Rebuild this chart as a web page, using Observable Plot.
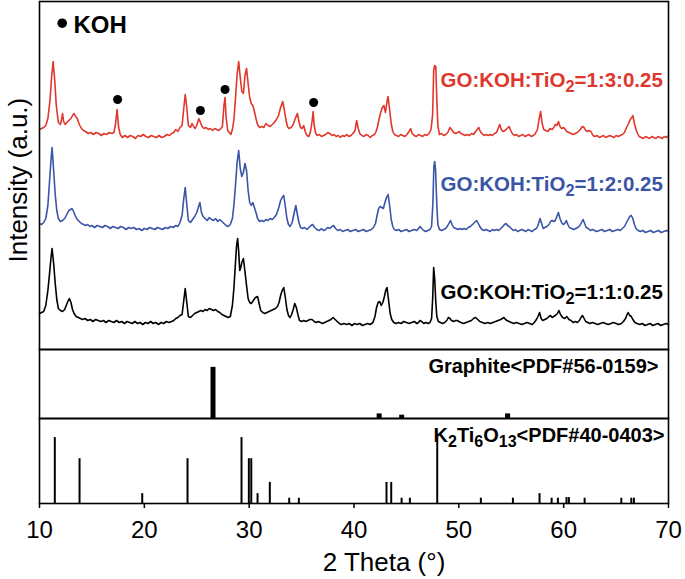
<!DOCTYPE html>
<html><head><meta charset="utf-8">
<script src="https://cdn.jsdelivr.net/npm/d3@7"></script>
<script src="https://cdn.jsdelivr.net/npm/@observablehq/plot@0.6"></script>
<style>
html,body{margin:0;padding:0;background:#fff;}
#chart{position:relative;width:685px;height:579px;overflow:hidden;background:#fff;}
#chart svg{position:absolute;left:0;}
</style></head><body><div id="chart"></div>
<script>
// ---------- data (2θ in degrees, intensity in a.u.) ----------
const redPattern = [[10.0,30],[10.2,31],[10.4,32],[10.6,34],[10.8,41],[11.0,59],[11.15,82],[11.3,98],[11.45,80],[11.6,54],[11.8,37],[12.0,35],[12.1,40],[12.2,46],[12.3,38],[12.45,35],[12.6,37],[12.8,39],[13.0,41],[13.15,44],[13.3,46],[13.45,43],[13.6,41],[13.8,35],[14.0,31],[14.2,29],[14.4,28],[14.65,26],[14.9,27],[15.15,25],[15.4,27],[15.65,26],[15.9,24],[16.15,26],[16.4,25],[16.65,27],[16.9,26],[17.1,27],[17.25,35],[17.4,50],[17.55,32],[17.7,25],[17.9,22],[18.15,24],[18.4,22],[18.65,24],[18.9,23],[19.15,21],[19.4,24],[19.65,23],[19.9,25],[20.15,23],[20.4,22],[20.65,24],[20.9,23],[21.15,22],[21.4,24],[21.65,22],[21.9,23],[22.15,25],[22.4,24],[22.6,26],[22.8,27],[23.0,30],[23.2,28],[23.4,32],[23.6,34],[23.75,50],[23.9,65],[24.05,52],[24.2,34],[24.4,32],[24.55,36],[24.7,33],[24.85,31],[25.0,34],[25.2,41],[25.35,37],[25.5,33],[25.7,31],[25.9,32],[26.1,30],[26.3,31],[26.5,29],[26.7,31],[26.9,30],[27.1,29],[27.3,31],[27.45,33],[27.6,55],[27.7,62],[27.8,42],[27.95,29],[28.1,27],[28.25,25],[28.4,30],[28.55,40],[28.7,62],[28.85,85],[29.0,98],[29.15,82],[29.3,68],[29.45,66],[29.6,84],[29.75,91],[29.9,76],[30.05,62],[30.2,56],[30.35,54],[30.5,48],[30.65,41],[30.8,35],[31.0,32],[31.2,33],[31.4,32],[31.6,36],[31.8,34],[32.0,33],[32.2,35],[32.4,37],[32.6,40],[32.8,44],[33.0,52],[33.2,58],[33.35,50],[33.5,40],[33.65,33],[33.8,31],[34.0,32],[34.2,35],[34.4,41],[34.6,46],[34.75,38],[34.9,32],[35.05,31],[35.2,34],[35.35,28],[35.5,24],[35.7,23],[35.85,28],[36.0,38],[36.1,48],[36.2,34],[36.35,26],[36.5,24],[36.7,25],[36.9,23],[37.1,24],[37.3,25],[37.5,27],[37.7,26],[37.9,24],[38.1,25],[38.3,23],[38.5,24],[38.7,22],[38.9,24],[39.1,23],[39.3,25],[39.5,23],[39.7,24],[39.9,26],[40.1,29],[40.25,39],[40.4,31],[40.55,26],[40.75,24],[40.95,23],[41.15,25],[41.35,24],[41.55,22],[41.75,24],[41.95,25],[42.1,28],[42.25,33],[42.4,41],[42.55,47],[42.7,52],[42.85,54],[43.0,47],[43.15,58],[43.25,63],[43.4,50],[43.55,36],[43.7,28],[43.85,25],[44.05,24],[44.25,23],[44.45,25],[44.65,24],[44.85,23],[45.05,25],[45.25,28],[45.4,31],[45.55,26],[45.75,24],[45.95,23],[46.15,25],[46.35,24],[46.55,23],[46.75,25],[46.95,24],[47.15,26],[47.35,30],[47.5,45],[47.6,89],[47.7,94],[47.8,93],[47.9,60],[48.0,34],[48.15,25],[48.35,26],[48.55,24],[48.75,25],[48.95,27],[49.15,32],[49.3,30],[49.5,27],[49.7,26],[49.9,27],[50.05,28],[50.2,26],[50.4,25],[50.6,24],[50.8,25],[51.0,24],[51.2,26],[51.4,25],[51.6,28],[51.75,30],[51.9,32],[52.05,28],[52.2,26],[52.4,24],[52.6,25],[52.8,24],[53.0,25],[53.2,24],[53.4,26],[53.6,27],[53.75,31],[53.9,35],[54.05,30],[54.2,28],[54.4,29],[54.6,31],[54.8,33],[54.95,29],[55.1,26],[55.3,24],[55.5,25],[55.7,23],[55.9,24],[56.1,25],[56.3,23],[56.5,24],[56.7,25],[56.9,23],[57.1,24],[57.3,26],[57.5,30],[57.65,40],[57.8,48],[57.95,36],[58.1,30],[58.3,29],[58.5,28],[58.7,31],[58.9,30],[59.05,32],[59.2,35],[59.35,34],[59.5,38],[59.65,33],[59.8,31],[60.0,32],[60.15,30],[60.3,28],[60.5,27],[60.7,26],[60.9,25],[61.1,26],[61.3,27],[61.5,29],[61.65,31],[61.8,33],[61.95,32],[62.1,29],[62.25,28],[62.4,29],[62.6,28],[62.8,24],[63.0,23],[63.2,24],[63.4,22],[63.6,23],[63.8,24],[64.0,22],[64.2,23],[64.4,24],[64.6,23],[64.8,22],[65.0,24],[65.2,23],[65.4,24],[65.6,25],[65.8,27],[66.0,32],[66.2,36],[66.35,40],[66.5,42],[66.6,44],[66.75,36],[66.9,30],[67.05,26],[67.2,23],[67.4,22],[67.6,21],[67.8,23],[68.0,22],[68.2,21],[68.4,23],[68.6,22],[68.8,21],[69.0,23],[69.2,22],[69.4,21],[69.6,23],[69.8,22],[70.0,24]];

const bluePattern = [[10.0,31],[10.2,30],[10.4,32],[10.6,36],[10.8,49],[10.95,72],[11.1,95],[11.2,107],[11.35,84],[11.5,60],[11.65,44],[11.8,36],[12.0,33],[12.2,34],[12.4,36],[12.6,40],[12.8,44],[12.95,45],[13.1,46],[13.25,43],[13.4,39],[13.6,35],[13.8,33],[14.0,31],[14.2,30],[14.4,29],[14.6,30],[14.8,28],[15.0,29],[15.25,27],[15.5,29],[15.75,28],[16.0,27],[16.25,29],[16.5,28],[16.75,26],[17.0,28],[17.25,27],[17.5,26],[17.75,28],[18.0,27],[18.25,25],[18.5,27],[18.75,26],[19.0,27],[19.25,25],[19.5,26],[19.75,24],[20.0,26],[20.25,25],[20.5,27],[20.75,26],[21.0,25],[21.25,27],[21.5,26],[21.75,25],[22.0,27],[22.25,26],[22.5,28],[22.75,27],[23.0,29],[23.2,28],[23.4,32],[23.6,39],[23.75,55],[23.9,67],[24.05,50],[24.2,34],[24.4,32],[24.6,35],[24.8,38],[25.0,42],[25.15,47],[25.3,52],[25.45,42],[25.6,38],[25.8,36],[26.0,34],[26.2,37],[26.4,35],[26.6,34],[26.8,36],[27.0,33],[27.2,35],[27.4,33],[27.6,31],[27.8,29],[28.0,28],[28.2,30],[28.4,36],[28.55,50],[28.7,70],[28.85,92],[29.0,104],[29.15,86],[29.3,78],[29.45,82],[29.6,91],[29.75,84],[29.9,64],[30.05,52],[30.2,49],[30.35,52],[30.5,47],[30.65,42],[30.8,36],[31.0,33],[31.2,34],[31.4,33],[31.6,35],[31.8,34],[32.0,36],[32.2,35],[32.4,37],[32.6,40],[32.8,46],[33.0,54],[33.15,57],[33.3,59],[33.45,48],[33.6,36],[33.75,30],[33.9,28],[34.1,32],[34.3,42],[34.45,49],[34.6,40],[34.75,32],[34.9,27],[35.1,26],[35.3,27],[35.5,25],[35.7,27],[35.9,29],[36.05,30],[36.25,27],[36.45,25],[36.7,24],[36.9,26],[37.1,24],[37.3,25],[37.5,27],[37.7,26],[37.9,28],[38.05,29],[38.25,26],[38.45,24],[38.7,25],[38.9,23],[39.15,24],[39.4,25],[39.65,23],[39.9,24],[40.15,25],[40.4,23],[40.65,24],[40.9,25],[41.15,23],[41.4,24],[41.65,25],[41.85,27],[42.05,31],[42.2,39],[42.35,46],[42.5,48],[42.65,47],[42.8,46],[42.95,52],[43.1,57],[43.25,60],[43.4,49],[43.55,35],[43.7,28],[43.85,25],[44.05,24],[44.25,25],[44.5,23],[44.75,24],[45.0,25],[45.25,23],[45.5,24],[45.75,25],[46.0,24],[46.15,26],[46.3,28],[46.45,26],[46.65,24],[46.85,23],[47.05,24],[47.25,25],[47.4,28],[47.52,50],[47.62,88],[47.7,93],[47.78,85],[47.9,50],[48.0,30],[48.15,25],[48.35,24],[48.55,25],[48.75,26],[48.95,29],[49.1,32],[49.2,34],[49.35,30],[49.5,27],[49.7,26],[49.9,25],[50.1,26],[50.3,25],[50.5,26],[50.7,25],[50.9,27],[51.1,28],[51.3,30],[51.5,32],[51.7,34],[51.85,31],[52.0,28],[52.2,25],[52.4,24],[52.6,25],[52.8,24],[53.0,23],[53.2,25],[53.4,24],[53.6,25],[53.8,24],[54.0,26],[54.2,28],[54.35,30],[54.5,31],[54.65,29],[54.8,28],[55.0,26],[55.2,24],[55.4,25],[55.6,23],[55.8,24],[56.0,25],[56.2,24],[56.4,23],[56.6,25],[56.8,24],[57.0,23],[57.2,25],[57.4,26],[57.55,29],[57.75,36],[57.9,31],[58.05,26],[58.2,27],[58.4,28],[58.6,30],[58.75,33],[58.9,34],[59.05,33],[59.2,34],[59.35,38],[59.5,42],[59.65,36],[59.8,32],[59.95,30],[60.1,31],[60.25,34],[60.4,30],[60.55,27],[60.75,26],[60.95,25],[61.15,26],[61.35,27],[61.55,29],[61.7,32],[61.85,35],[62.0,31],[62.15,27],[62.35,26],[62.55,24],[62.75,25],[62.95,24],[63.15,23],[63.4,24],[63.65,25],[63.9,23],[64.15,24],[64.4,25],[64.65,23],[64.9,24],[65.15,25],[65.4,24],[65.6,26],[65.8,28],[66.0,32],[66.15,35],[66.3,38],[66.45,39],[66.6,36],[66.75,30],[66.9,26],[67.1,24],[67.3,23],[67.55,24],[67.8,22],[68.05,23],[68.3,24],[68.55,22],[68.8,23],[69.05,24],[69.3,22],[69.55,23],[69.8,24],[70.0,23]];

const blackPattern = [[10.0,36],[10.2,37],[10.4,38],[10.6,44],[10.8,59],[10.95,75],[11.1,92],[11.2,101],[11.35,86],[11.5,66],[11.65,50],[11.8,41],[12.0,39],[12.2,38],[12.4,40],[12.55,44],[12.7,48],[12.85,51],[13.0,47],[13.15,40],[13.3,36],[13.5,33],[13.7,32],[13.9,31],[14.1,30],[14.35,31],[14.6,29],[14.85,30],[15.1,28],[15.35,30],[15.6,29],[15.85,28],[16.1,29],[16.35,27],[16.6,29],[16.85,28],[17.1,27],[17.35,29],[17.6,27],[17.85,28],[18.1,26],[18.35,28],[18.6,27],[18.85,26],[19.1,28],[19.35,26],[19.6,27],[19.85,25],[20.1,27],[20.35,26],[20.6,28],[20.85,26],[21.1,27],[21.35,25],[21.6,27],[21.85,26],[22.1,28],[22.35,27],[22.6,28],[22.8,29],[23.0,31],[23.2,32],[23.4,34],[23.6,35],[23.75,48],[23.9,61],[24.05,47],[24.2,33],[24.4,32],[24.6,34],[24.8,36],[25.0,37],[25.2,38],[25.4,39],[25.6,38],[25.8,40],[26.0,39],[26.2,41],[26.4,40],[26.6,39],[26.8,40],[27.0,38],[27.2,37],[27.4,35],[27.6,34],[27.8,33],[28.0,32],[28.2,33],[28.4,44],[28.55,62],[28.7,88],[28.8,104],[28.9,111],[29.0,98],[29.1,79],[29.2,82],[29.3,87],[29.45,91],[29.6,78],[29.75,64],[29.9,51],[30.05,47],[30.2,46],[30.4,49],[30.6,52],[30.8,53],[30.95,46],[31.1,39],[31.3,37],[31.5,36],[31.7,37],[31.9,38],[32.1,39],[32.3,40],[32.5,41],[32.7,43],[32.85,47],[33.0,54],[33.15,59],[33.3,62],[33.45,52],[33.6,40],[33.75,34],[33.9,32],[34.05,35],[34.2,40],[34.35,46],[34.5,42],[34.65,35],[34.8,29],[35.0,28],[35.2,29],[35.4,28],[35.6,29],[35.8,30],[36.0,30],[36.2,28],[36.4,27],[36.6,28],[36.8,27],[37.0,26],[37.2,27],[37.4,28],[37.6,29],[37.8,30],[38.0,32],[38.2,30],[38.4,28],[38.6,26],[38.8,25],[39.05,26],[39.3,25],[39.55,26],[39.8,24],[40.05,26],[40.3,25],[40.55,26],[40.8,24],[41.05,25],[41.3,26],[41.55,25],[41.8,27],[42.0,33],[42.15,42],[42.3,47],[42.45,48],[42.6,44],[42.75,47],[42.9,53],[43.05,60],[43.15,62],[43.3,49],[43.45,36],[43.6,30],[43.8,27],[44.0,26],[44.25,27],[44.5,26],[44.75,28],[45.0,27],[45.25,26],[45.5,27],[45.75,28],[46.0,26],[46.15,27],[46.3,29],[46.45,28],[46.65,26],[46.85,27],[47.05,26],[47.25,27],[47.4,31],[47.5,50],[47.6,82],[47.7,70],[47.8,48],[47.9,33],[48.05,28],[48.25,27],[48.45,26],[48.65,27],[48.85,29],[49.0,32],[49.15,31],[49.3,29],[49.5,28],[49.7,29],[49.85,29],[50.0,28],[50.2,27],[50.45,26],[50.7,27],[50.95,28],[51.2,29],[51.4,31],[51.6,32],[51.8,30],[52.0,28],[52.25,27],[52.5,26],[52.75,27],[53.0,26],[53.25,27],[53.5,28],[53.75,29],[54.0,30],[54.15,31],[54.3,32],[54.45,30],[54.6,29],[54.8,28],[55.0,27],[55.25,26],[55.5,27],[55.75,26],[56.0,25],[56.25,26],[56.5,27],[56.75,26],[57.0,25],[57.2,27],[57.4,30],[57.55,33],[57.7,37],[57.85,31],[58.0,29],[58.2,30],[58.4,31],[58.6,33],[58.75,34],[58.9,32],[59.05,33],[59.2,34],[59.4,36],[59.55,39],[59.7,35],[59.9,32],[60.1,31],[60.3,33],[60.5,30],[60.7,29],[60.9,27],[61.1,28],[61.3,27],[61.5,29],[61.65,32],[61.8,34],[61.95,31],[62.1,28],[62.3,27],[62.5,26],[62.75,27],[63.0,26],[63.25,25],[63.5,26],[63.75,27],[64.0,26],[64.25,25],[64.5,26],[64.75,27],[65.0,26],[65.25,25],[65.5,26],[65.7,28],[65.9,31],[66.05,35],[66.15,37],[66.3,34],[66.45,33],[66.6,30],[66.8,27],[67.0,26],[67.25,25],[67.5,26],[67.75,24],[68.0,25],[68.25,26],[68.5,24],[68.75,25],[69.0,26],[69.25,24],[69.5,25],[69.75,26],[70.0,25]];

// KOH markers on the 1:3:0.25 pattern (2θ, marker level in that pattern's a.u.)
const kohTheta = [17.45, 25.35, 27.7, 36.15];
const kohLevel = [60, 49, 70, 57];

// reference cards (2θ, relative intensity %)
const graphiteTheta = [26.55, 42.4, 44.55, 54.65];
const graphiteRel   = [100, 9, 6.5, 9];
const k2tiTheta = [11.46,13.82,19.8,24.12,29.27,29.97,30.2,30.8,31.97,33.82,34.74,43.1,43.55,44.54,45.33,47.94,52.1,55.16,57.7,58.85,59.45,60.27,60.5,62.0,65.5,66.45,66.7];
const k2tiRel   = [100,68,15,68,100,68,68,15,32,8,8,32,32,8,8,100,8,8,15,8,8,9,9,8,8,8,8];

const xTicks = [10, 20, 30, 40, 50, 60, 70];
const seriesKeys   = ["red", "blue", "black"];
const seriesLabels = ["GO:KOH:TiO2=1:3:0.25", "GO:KOH:TiO2=1:2:0.25", "GO:KOH:TiO2=1:1:0.25"];
const graphiteLabel = "Graphite<PDF#56-0159>";
const k2tiLabel = "K2Ti6O13<PDF#40-0403>";
const kohLegend = "KOH";
const xLabel = "2 Theta (°)";
const yLabel = "Intensity (a.u.)";

// ---------- layout / style ----------
const FONT = "'Liberation Sans', Arial, Helvetica, sans-serif";
const colors = {red: "#e0372c", blue: "#3a55a6", black: "#000000"};
const offsets = {black: 0, blue: 95, red: 190};
const labelLift = {red: 73, blue: 64, black: 51};
const patterns = {red: redPattern, blue: bluePattern, black: blackPattern};

const lineRows = seriesKeys.flatMap(k => patterns[k].map(([t, v]) => ({k, t, v: v + offsets[k]})));
const kohRows = kohTheta.map((t, i) => ({t, v: kohLevel[i] + offsets.red}));
const labelRows = seriesKeys.map((k, i) => ({k, text: seriesLabels[i], t: 48.25, v: offsets[k] + labelLift[k]}));

const common = {width: 685, marginLeft: 39, marginRight: 17,
  style: {fontFamily: FONT, background: "transparent", overflow: "visible", color: "#000"}};

const main = Plot.plot({
  ...common, height: 350, marginTop: 1, marginBottom: 1,
  x: {domain: [10, 70], axis: null},
  y: {domain: [0, 348], axis: null},
  marks: [
    ...["black", "blue", "red"].map(k =>
      Plot.line(lineRows.filter(d => d.k === k), {x: "t", y: "v", stroke: colors[k], strokeWidth: 1.6})),
    Plot.dot(kohRows, {x: "t", y: "v", r: 4.5, fill: "#000"}),
    Plot.dot([kohLegend], {frameAnchor: "top-left", dx: 22.7, dy: 21.7, r: 4.8, fill: "#000"}),
    Plot.text([kohLegend], {frameAnchor: "top-left", dx: 34, dy: 31, text: d => d, textAnchor: "start",
      lineAnchor: "bottom", fontSize: 24, fontWeight: "bold", fill: "#000"}),
    Plot.text(labelRows, {x: "t", y: "v", text: "text", fill: d => colors[d.k], textAnchor: "start",
      lineAnchor: "bottom", fontSize: 20.5, fontWeight: "bold"}),
    Plot.text([yLabel], {frameAnchor: "left", text: d => d, rotate: -90, dx: -21, dy: 87, fontSize: 26, fill: "#000"}),
    Plot.frame({stroke: "#000", strokeWidth: 1.6})
  ]
});

const graphite = Plot.plot({
  ...common, height: 71, marginTop: 1, marginBottom: 1,
  x: {domain: [10, 70], axis: null},
  y: {domain: [0, 135], axis: null},
  marks: [
    Plot.ruleX(graphiteTheta.map((t, i) => ({t, v: graphiteRel[i]})), {x: "t", y: "v", stroke: "#000", strokeWidth: 5}),
    Plot.text([graphiteLabel], {frameAnchor: "top-right", text: d => d, dx: -10, dy: 23, textAnchor: "end",
      lineAnchor: "bottom", fontSize: 20, fontWeight: "bold", fill: "#000"}),
    Plot.frame({stroke: "#000", strokeWidth: 1.6})
  ]
});

const k2ti = Plot.plot({
  ...common, height: 162, marginTop: 1, marginBottom: 76,
  x: {domain: [10, 70]},
  y: {domain: [0, 129], axis: null},
  marks: [
    Plot.ruleX(k2tiTheta.map((t, i) => ({t, v: k2tiRel[i]})), {x: "t", y: "v", stroke: "#000", strokeWidth: 2}),
    Plot.axisX(xTicks, {anchor: "bottom", tickSize: 5, tickPadding: 12, fontSize: 24, label: null, strokeWidth: 1.5}),
    Plot.text([k2tiLabel], {frameAnchor: "top-right", text: d => d, dx: -4, dy: 23.7, textAnchor: "end",
      lineAnchor: "bottom", fontSize: 20, fontWeight: "bold", fill: "#000"}),
    Plot.text([xLabel], {frameAnchor: "bottom", text: d => d, dx: 30, dy: 67, lineAnchor: "bottom", fontSize: 26, fill: "#000"}),
    Plot.frame({stroke: "#000", strokeWidth: 1.6})
  ]
});

const chart = document.getElementById("chart");
[[main, 0], [graphite, 348], [k2ti, 417]].forEach(([svg, top]) => {
  svg.style.position = "absolute";
  svg.style.top = top + "px";
  svg.style.left = "0px";
  chart.appendChild(svg);
});

// chemical subscripts (e.g. TiO2, K2Ti6O13)
const NS = "http://www.w3.org/2000/svg";
chart.querySelectorAll("text").forEach(el => {
  const s = el.textContent;
  if (!/[A-Za-z]\d/.test(s)) return;
  const size = parseFloat(getComputedStyle(el).fontSize) || 20;
  const shift = size * 0.26;
  const parts = s.split(/(?<=[A-Za-z])(\d+)/);
  el.textContent = "";
  let down = false;
  parts.forEach((p, i) => {
    if (!p) return;
    const ts = document.createElementNS(NS, "tspan");
    ts.textContent = p;
    if (i % 2 === 1) {
      ts.setAttribute("font-size", (size * 0.8) + "px");
      if (!down) { ts.setAttribute("dy", shift + "px"); down = true; }
    } else if (down) {
      ts.setAttribute("dy", (-shift) + "px"); down = false;
    }
    el.appendChild(ts);
  });
});
</script></body></html>
